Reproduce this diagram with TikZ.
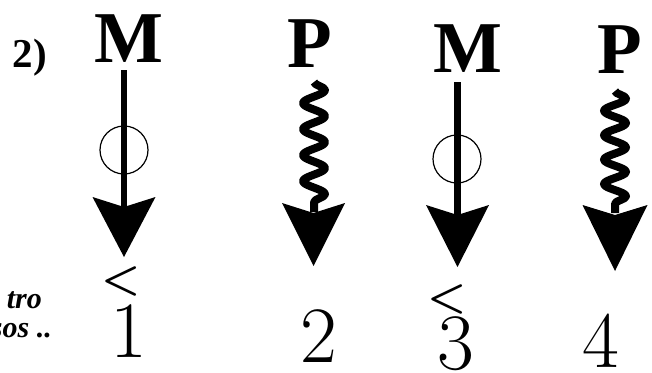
\documentclass[tikz,border=0pt]{standalone}
\usepackage{fontspec}
\newfontfamily\tnr{Liberation Serif}
\usetikzlibrary{decorations.pathmorphing}
\begin{document}
\begin{tikzpicture}[x=1pt,y=-1pt,
  big/.style={font=\tnr\bfseries\fontsize{73}{73}\selectfont, inner sep=0pt, anchor=base},
  num/.style={font=\fontsize{80}{80}\selectfont, inner sep=0pt, anchor=base},
  lt/.style={font=\bfseries\fontsize{44}{44}\selectfont, inner sep=0pt},
  shaft/.style={line width=6.5pt},
  wave/.style={line width=8pt, line join=round, decorate, decoration={snake, amplitude=11pt, segment length=26pt}},
  ring/.style={draw, circle, line width=1.2pt, minimum size=48pt, inner sep=0pt},
  head/.style={fill=black},
  note/.style={font=\tnr\bfseries\itshape\fontsize{30}{30}\selectfont, inner sep=0pt, anchor=base east}]
\useasboundingbox (0,0) rectangle (652,372);

% labels
\node[font=\tnr\bfseries\fontsize{41}{41}\selectfont, inner sep=0pt, anchor=base] (lab) at (30,67) {2)};
\node[note] (n1) at (42,308) {tro};
\node[note] (n2) at (52,337) {sos ..};

\node[big] (M1) at (128.5,62) {M};
\node[big] (P1) at (310,67) {P};
\node[big] (M2) at (467.5,72) {M};
\node[big] (P2) at (619.5,73) {P};

\node[lt] (lt1) at (121.5,281) {<};
\node[lt] (lt3) at (447.5,299) {<};
\node[num] (d1) at (128.5,357) {1};
\node[num] (d2) at (318.5,362) {2};
\node[num] (d3) at (456,369) {3};
\node[num] (d4) at (601,367) {4};

% arrow 1
\coordinate (a1s) at (124,70);
\coordinate (a1e) at (124,210);
\coordinate (a1t) at (124,257);
\draw[shaft] (a1s) -- (a1e);
\node[ring] (c1) at (124,150) {};
\fill[head] (a1t) -- ++(-31.5,-60) -- ++(31.5,10) -- ++(31.5,-10) -- cycle;

% arrow 2
\coordinate (a2s) at (314,82);
\coordinate (a2e) at (314,212);
\coordinate (a2t) at (313.5,266);
\draw[wave] (a2s) -- (a2e);
\fill[head] (a2t) -- ++(-31.5,-63) -- ++(31.5,10) -- ++(31.5,-10) -- cycle;

% arrow 3
\coordinate (a3s) at (457.5,82);
\coordinate (a3e) at (457.5,215);
\coordinate (a3t) at (457.5,267);
\draw[shaft] (a3s) -- (a3e);
\node[ring] (c3) at (457,159) {};
\fill[head] (a3t) -- ++(-31.5,-62) -- ++(31.5,10) -- ++(31.5,-10) -- cycle;

% arrow 4
\coordinate (a4s) at (615,91);
\coordinate (a4e) at (615,213);
\coordinate (a4t) at (615,271);
\draw[wave, decoration={snake, amplitude=11pt, segment length=24.4pt}] (a4s) -- (a4e);
\fill[head] (a4t) -- ++(-32.5,-66) -- ++(32.5,10) -- ++(32.5,-10) -- cycle;
\end{tikzpicture}
\end{document}
